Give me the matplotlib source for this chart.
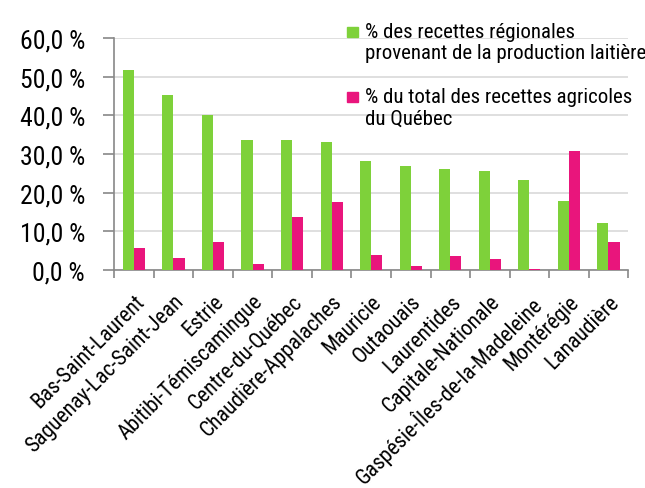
import matplotlib.pyplot as plt
import matplotlib.transforms as mtransforms
from matplotlib.patches import Rectangle
import numpy as np

plt.rcParams['font.family'] = ['Roboto Condensed', 'Roboto', 'Liberation Sans', 'DejaVu Sans']

regions = ["Bas-Saint-Laurent", "Saguenay-Lac-Saint-Jean", "Estrie",
           "Abitibi-Témiscamingue", "Centre-du-Québec", "Chaudière-Appalaches",
           "Mauricie", "Outaouais", "Laurentides", "Capitale-Nationale",
           "Gaspésie-Îles-de-la-Madeleine", "Montérégie", "Lanaudière"]
part_laitiere = [51.7, 45.4, 40.2, 33.7, 33.6, 33.1, 28.1, 26.9, 26.1, 25.6, 23.4, 17.9, 12.1]
part_quebec = [5.8, 3.1, 7.3, 1.4, 13.6, 17.5, 3.9, 1.1, 3.5, 2.9, 0.2, 30.7, 7.1]
yticks = [0, 10, 20, 30, 40, 50, 60]
labels = ["% des recettes régionales\nprovenant de la production laitière",
          "% du total des recettes agricoles\ndu Québec"]
colors = ["#7ED13A", "#E9157C"]

fig = plt.figure(figsize=(6.45, 4.89), dpi=100)
ax = fig.add_axes([0.177, 0.446, 0.797, 0.474])

x = np.arange(len(regions))
w = 0.28
ax.bar(x - w / 2, part_laitiere, w, color=colors[0], zorder=3)
ax.bar(x + w / 2, part_quebec, w, color=colors[1], zorder=3)

ax.set_xlim(-0.5, len(regions) - 0.5)
ax.set_ylim(0, 60)
ax.set_yticks(yticks)
ax.set_yticklabels([f"{v},0 %" for v in yticks], fontsize=18.5)
ax.yaxis.grid(True, color="#d9d9d9", linewidth=1.2, zorder=0)

ax.set_xticks(x)
ax.set_xticklabels(regions, rotation=45, ha="right", va="top",
                   rotation_mode="anchor", fontsize=15.5)
shift = mtransforms.ScaledTranslation(4 / 100, 0, fig.dpi_scale_trans)
for lab in ax.get_xticklabels():
    lab.set_transform(lab.get_transform() + shift)
ax.set_xticks(np.arange(len(regions) + 1) - 0.5, minor=True)
ax.tick_params(axis="x", which="major", length=0, pad=15)
ax.tick_params(axis="x", which="minor", length=6, color="#888888", width=1.2)
ax.tick_params(axis="y", length=8, color="#888888", width=1.2, pad=13)

for s in ["top", "right"]:
    ax.spines[s].set_visible(False)
for s in ["left", "bottom"]:
    ax.spines[s].set_color("#888888")
    ax.spines[s].set_linewidth(1.2)

# legend, square aligned with the first line of each label
for lbl, col, ysq, ytx in zip(labels, colors, [0.922, 0.789], [0.953, 0.820]):
    fig.patches.append(Rectangle((0.538, ysq), 0.017, 0.0205, color=col,
                                 transform=fig.transFigure, figure=fig))
    fig.text(0.566, ytx, lbl, fontsize=15, va="top", ha="left", linespacing=1.15)

fig.savefig("out.png", dpi=100)
